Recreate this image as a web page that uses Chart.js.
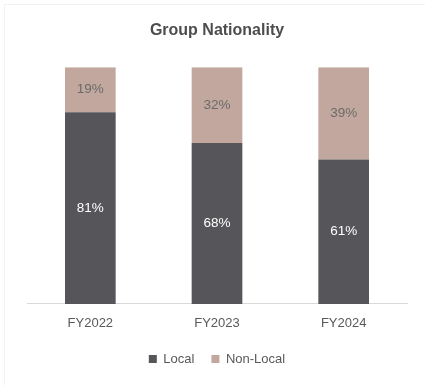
<!DOCTYPE html>
<html>
<head>
<meta charset="utf-8">
<script src="https://cdn.jsdelivr.net/npm/chart.js@4"></script>
<style>
    html, body { margin: 0; padding: 0; background: #ffffff; }
    #wrap { position: relative; width: 425px; height: 385px; }
    #frame {
        position: absolute; left: 4px; top: 4px; right: 0; bottom: 0;
        border-top: 1px solid #f2f2f2; border-left: 1px solid #f2f2f2;
        pointer-events: none;
    }
</style>
</head>
<body>
<div id="wrap">
    <canvas id="natChart" width="425" height="385"></canvas>
    <div id="frame"></div>
</div>
<script>
    const years = ['FY2022', 'FY2023', 'FY2024'];
    const local = [81, 68, 61];
    const nonLocal = [19, 32, 39];

    const FONT = "'Liberation Sans Narrow', 'Arial Narrow', 'Liberation Sans', Arial, sans-serif";
    const TEXT = '#595959';

    // writes the percentage in the middle of each stacked segment
    const barLabels = {
        id: 'bar_labels',
        afterDatasetsDraw: (chart) => {
            const ctx = chart.ctx;
            ctx.save();
            ctx.font = '13.5px ' + FONT;
            ctx.textAlign = 'center';
            ctx.textBaseline = 'middle';
            chart.data.datasets.forEach((ds, i) => {
                const meta = chart.getDatasetMeta(i);
                meta.data.forEach((bar, j) => {
                    const p = bar.getProps(['x', 'y', 'base'], true);
                    ctx.fillStyle = ds.labelColor;
                    ctx.fillText(ds.data[j] + '%', p.x, (p.y + p.base) / 2);
                });
            });
            ctx.restore();
        }
    };

    const ctx = document.getElementById('natChart');
    new Chart(ctx, {
        type: 'bar',
        data: {
            labels: years,
            datasets: [
                {
                    label: 'Local',
                    data: local,
                    backgroundColor: '#56565a',
                    labelColor: '#ffffff',
                    barPercentage: 0.4,
                    categoryPercentage: 1
                },
                {
                    label: 'Non-Local',
                    data: nonLocal,
                    backgroundColor: '#c1a79d',
                    labelColor: '#6b6b6b',
                    barPercentage: 0.4,
                    categoryPercentage: 1
                }
            ]
        },
        options: {
            responsive: false,
            animation: false,
            layout: { padding: { left: 27, right: 18, top: 0, bottom: 9.5 } },
            scales: {
                x: {
                    stacked: true,
                    grid: { display: false },
                    border: { display: true, color: '#d9d9d9', width: 1 },
                    ticks: { color: TEXT, font: { family: FONT, size: 13 }, padding: 4 }
                },
                y: {
                    stacked: true,
                    display: false,
                    min: 0,
                    max: 100
                }
            },
            plugins: {
                title: {
                    display: true,
                    text: 'Group Nationality',
                    color: '#4d4d4f',
                    font: { family: FONT, size: 16, weight: 'bold' },
                    padding: { top: 21, bottom: 27 }
                },
                legend: {
                    position: 'bottom',
                    labels: {
                        color: TEXT,
                        font: { family: FONT, size: 13 },
                        boxWidth: 8,
                        boxHeight: 8,
                        padding: 17
                    }
                },
                tooltip: { enabled: false }
            }
        },
        plugins: [barLabels]
    });
</script>
</body>
</html>
